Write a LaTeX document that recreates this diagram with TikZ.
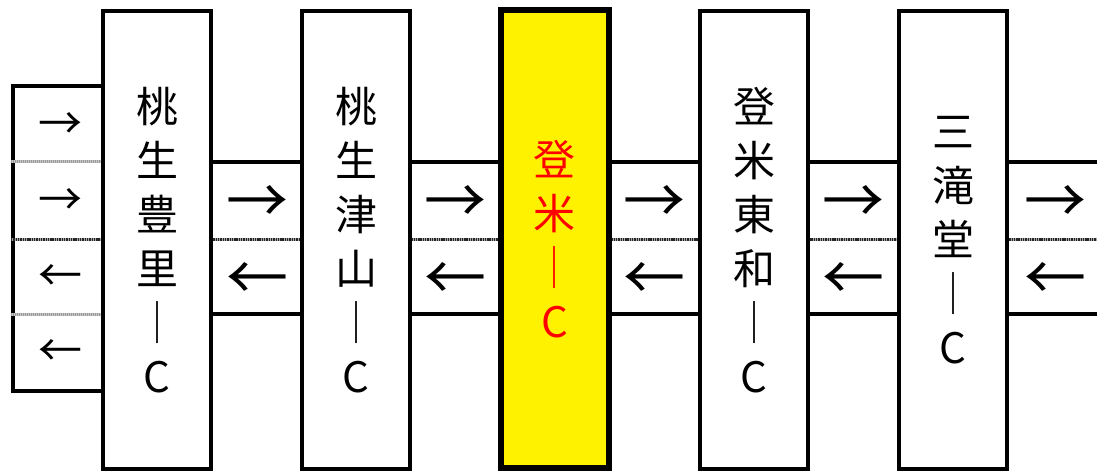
\documentclass[tikz,border=0pt]{standalone}
\usepackage{fontspec}
\setmainfont{Noto Sans CJK JP}
\begin{document}
\begin{tikzpicture}[x=1pt,y=-1pt,
  icbox/.style={draw=black, line width=4pt, fill=white, minimum width=108pt, minimum height=458pt, inner sep=0pt, align=center, font=\fontsize{42}{54}\selectfont},
  hot/.style={icbox, fill=yellow, text=red, line width=6pt},
  endbox/.style={draw=black, line width=4pt, fill=white, minimum width=90pt, minimum height=305pt, inner sep=0pt},
  road/.style={line width=3.5pt, draw=black},
  median/.style={line width=3pt, draw=gray!70, postaction={draw=black!85, line width=3pt, dash pattern=on 1.4pt off 0.9pt}},
  edge/.style={line width=3pt, draw=gray!45, postaction={draw=gray!80, line width=3pt, dash pattern=on 1pt off 1pt}},
  arr/.style={font=\fontsize{62}{62}\selectfont, inner sep=0pt},
  sarr/.style={font=\fontsize{44}{44}\selectfont, inner sep=0pt}]
\useasboundingbox (0,0) rectangle (1097,473);
% left end box
\node[endbox] (lbox) at (58,238.5) {};
\coordinate (rend) at (1097,238);
% IC box centres
\path (157,240) coordinate (c1) (356,240) coordinate (c2) (554.5,239) coordinate (c3) (754,240) coordinate (c4) (953,240) coordinate (c5);
% roads
\draw[edge] (lbox.west |- 0,162) -- (c1 |- 0,162);
\draw[edge] (lbox.west |- 0,314) -- (c1 |- 0,314);
\draw[road] (c1 |- 0,162) -- (rend |- 0,162);
\draw[road] (c1 |- 0,314) -- (rend |- 0,314);
\draw[median] (lbox.west |- 0,239) -- (rend |- 0,239);
% IC boxes
\node[icbox] (ic1) at (c1) {桃\\生\\豊\\里\\｜\\C};
\node[icbox] (ic2) at (c2) {桃\\生\\津\\山\\｜\\C};
\node[hot]   (ic3) at (c3) {登\\米\\｜\\C};
\node[icbox] (ic4) at (c4) {登\\米\\東\\和\\｜\\C};
\node[icbox] (ic5) at (c5) {三\\滝\\堂\\｜\\C};
% arrows left end
\node[sarr] (la1) at (60,126) {→};
\node[sarr] (la2) at (60,202) {→};
\node[sarr] (la3) at (60,278) {←};
\node[sarr] (la4) at (60,353) {←};
% arrows between
\node[arr] (r1) at (257,204) {→};
\node[arr] (l1) at (257,281) {←};
\node[arr] (r2) at (455.5,204) {→};
\node[arr] (l2) at (455.5,281) {←};
\node[arr] (r3) at (654.5,204) {→};
\node[arr] (l3) at (654.5,281) {←};
\node[arr] (r4) at (853.5,204) {→};
\node[arr] (l4) at (853.5,281) {←};
\node[arr] (r5) at (1055,204) {→};
\node[arr] (l5) at (1055,281) {←};
\end{tikzpicture}
\end{document}
